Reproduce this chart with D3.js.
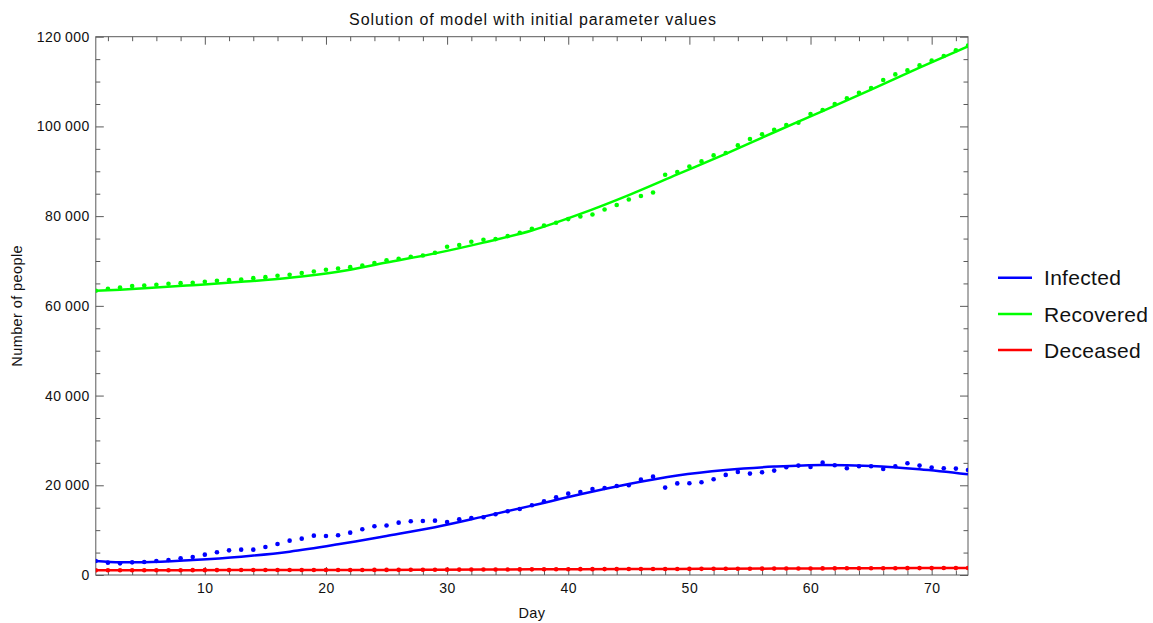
<!DOCTYPE html>
<html>
<head>
<meta charset="utf-8">
<script src="https://cdn.jsdelivr.net/npm/d3@7"></script>
<style>
  html, body { margin: 0; padding: 0; background: #fff; }
  svg { display: block; font-family: "Liberation Sans", Arial, sans-serif; }
</style>
</head>
<body>
<svg id="chart" width="1153" height="623"></svg>
<script>
// ---------- DATA ----------
const days = d3.range(1, 74); // days 1..73 for observed data

const infectedObs = [
  3120, 2750, 2600, 2820, 2900, 3120, 3350, 3720, 4010, 4540,
  5060, 5500, 5650, 5650, 6250, 6920, 7660, 8100, 8770, 8700,
  8850, 9440, 10190, 10860, 11050, 11670, 11970, 12050, 12120, 11820,
  12420, 12710, 12860, 13540, 14210, 14720, 15540, 16430, 17330, 18140,
  18510, 19180, 19410, 19850, 20000, 21260, 21930, 19480, 20420, 20450,
  20670, 21350, 22310, 22980, 22600, 22900, 23270, 24020, 24390, 24090,
  25050, 24470, 23800, 24250, 24250, 23640, 24250, 24920, 24390, 23940,
  23800, 23720, 23420
];

const recoveredObs = [
  63350, 63800, 64090, 64400, 64540, 64690, 64910, 65060, 65130, 65360,
  65580, 65730, 65880, 66180, 66400, 66700, 66920, 67300, 67660, 68040,
  68330, 68630, 69000, 69530, 70150, 70490, 70940, 71230, 71830, 73170,
  73540, 74280, 74730, 74880, 75550, 76290, 77180, 77920, 78520, 79340,
  79930, 80380, 81490, 82470, 83720, 84480, 85280, 89230, 89830, 91080,
  92200, 93540, 94060, 95770, 97190, 98230, 99270, 100310, 100830, 102770,
  103660, 105000, 106250, 107520, 108560, 110350, 111600, 112490, 113600, 114660,
  115700, 116960, 118000
];

const deceasedObs = [
  1040, 1045, 1050, 1055, 1060, 1065, 1070, 1075, 1080, 1085,
  1090, 1095, 1100, 1100, 1105, 1105, 1110, 1110, 1115, 1115,
  1120, 1125, 1130, 1135, 1140, 1150, 1160, 1170, 1180, 1190,
  1200, 1210, 1220, 1230, 1240, 1250, 1260, 1270, 1280, 1290,
  1300, 1305, 1310, 1320, 1325, 1330, 1335, 1340, 1350, 1360,
  1370, 1380, 1390, 1400, 1410, 1420, 1430, 1440, 1450, 1460,
  1470, 1480, 1490, 1500, 1505, 1510, 1520, 1530, 1535, 1540,
  1550, 1555, 1560
];

// model solution, sampled days
const modelDays = [1, 3, 5, 9, 13, 17, 21, 25, 29, 33, 37, 41, 45, 49, 53, 57, 61, 65, 69, 73];
const infectedModel = [3120, 2840, 2860, 3350, 4090, 5200, 6840, 8700, 10640, 13010, 15470, 18000, 20300, 22200, 23420, 24160, 24540, 24310, 23580, 22460];
const recoveredModel = [63350, 63600, 63900, 64600, 65350, 66250, 67600, 69650, 71700, 74100, 76800, 80500, 84700, 89300, 93900, 98700, 103400, 108200, 113100, 117850];
const deceasedModel = [1040, 1045, 1060, 1085, 1100, 1110, 1120, 1140, 1180, 1220, 1260, 1300, 1325, 1350, 1390, 1430, 1470, 1505, 1535, 1560];

const seriesNames = ["Infected", "Recovered", "Deceased"];
const seriesColors = ["#0000ff", "#00ff00", "#ff0000"];

const xMajorTicks = [10, 20, 30, 40, 50, 60, 70];
const xMinorTicks = [2, 4, 6, 8, 12, 14, 16, 18, 22, 24, 26, 28, 32, 34, 36, 38, 42, 44, 46, 48, 52, 54, 56, 58, 62, 64, 66, 68, 72];
const yMajorTicks = [0, 20000, 40000, 60000, 80000, 100000, 120000];
const yMinorTicks = [5000, 10000, 15000, 25000, 30000, 35000, 45000, 50000, 55000, 65000, 70000, 75000, 85000, 90000, 95000, 105000, 110000, 115000];

const titleText = "Solution of model with initial parameter values";
const xLabel = "Day";
const yLabel = "Number of people";

// ---------- LAYOUT ----------
const L = 95.8, R = 968, T = 36.7, B = 575;
const svg = d3.select("#chart");
const x = d3.scaleLinear().domain([1, 73]).range([L, R]);
const y = d3.scaleLinear().domain([0, 120000]).range([B, T]);

const frameColor = "#5a5a5a";
const fmt = v => v >= 1000 ? d3.format(",")(v).replace(/,/g, "\u2009") : String(v);

function styleAxis(g) {
  g.select(".domain").remove();
  g.selectAll(".tick line").attr("stroke", frameColor);
  g.selectAll(".tick text").attr("fill", "#111").style("font-size", "14px")
    .style("letter-spacing", "0.5px")
    .style("font-family", '"Liberation Sans", Arial, sans-serif');
}

// bottom
svg.append("g").attr("transform", `translate(0,${B})`)
  .call(d3.axisBottom(x).tickValues(xMajorTicks).tickSize(-8).tickPadding(8).tickFormat(d => d))
  .call(styleAxis);
svg.append("g").attr("transform", `translate(0,${B})`)
  .call(d3.axisBottom(x).tickValues(xMinorTicks).tickSize(-4.5).tickFormat(""))
  .call(styleAxis);
// top
svg.append("g").attr("transform", `translate(0,${T})`)
  .call(d3.axisTop(x).tickValues(xMajorTicks).tickSize(-8).tickFormat(""))
  .call(styleAxis);
svg.append("g").attr("transform", `translate(0,${T})`)
  .call(d3.axisTop(x).tickValues(xMinorTicks).tickSize(-4.5).tickFormat(""))
  .call(styleAxis);
// left
svg.append("g").attr("transform", `translate(${L},0)`)
  .call(d3.axisLeft(y).tickValues(yMajorTicks).tickSize(-8).tickPadding(6).tickFormat(fmt))
  .call(styleAxis);
svg.append("g").attr("transform", `translate(${L},0)`)
  .call(d3.axisLeft(y).tickValues(yMinorTicks).tickSize(-4.5).tickFormat(""))
  .call(styleAxis);
// right
svg.append("g").attr("transform", `translate(${R},0)`)
  .call(d3.axisRight(y).tickValues(yMajorTicks).tickSize(-8).tickFormat(""))
  .call(styleAxis);
svg.append("g").attr("transform", `translate(${R},0)`)
  .call(d3.axisRight(y).tickValues(yMinorTicks).tickSize(-4.5).tickFormat(""))
  .call(styleAxis);

// frame
svg.append("rect").attr("x", L).attr("y", T).attr("width", R - L).attr("height", B - T)
  .attr("fill", "none").attr("stroke", frameColor).attr("stroke-width", 1);

// clip
svg.append("clipPath").attr("id", "plotclip").append("rect")
  .attr("x", L).attr("y", T - 4).attr("width", R - L).attr("height", B - T + 8);

const plot = svg.append("g").attr("clip-path", "url(#plotclip)");

const obsSets = [infectedObs, recoveredObs, deceasedObs];
const modelSets = [infectedModel, recoveredModel, deceasedModel];

const line = d3.line().x(d => x(d[0])).y(d => y(d[1])).curve(d3.curveMonotoneX);

modelSets.forEach((vals, i) => {
  plot.append("path")
    .datum(modelDays.map((d, j) => [d, vals[j]]))
    .attr("d", line)
    .attr("fill", "none")
    .attr("stroke", seriesColors[i])
    .attr("stroke-width", 2.5);
});

obsSets.forEach((vals, i) => {
  plot.append("g").selectAll("circle")
    .data(days.map((d, j) => [d, vals[j]]))
    .join("circle")
    .attr("cx", d => x(d[0]))
    .attr("cy", d => y(d[1]))
    .attr("r", 2.3)
    .attr("fill", seriesColors[i]);
});

// title
svg.append("text").attr("x", 533).attr("y", 25).attr("text-anchor", "middle")
  .style("font-size", "16px").style("letter-spacing", "0.9px").attr("fill", "#111").text(titleText);

// axis labels
svg.append("text").attr("x", (L + R) / 2).attr("y", 618).attr("text-anchor", "middle")
  .style("font-size", "14.5px").style("letter-spacing", "0.4px").attr("fill", "#111").text(xLabel);
svg.append("text").attr("transform", `translate(22,${(T + B) / 2}) rotate(-90)`)
  .attr("text-anchor", "middle").style("font-size", "14.5px").style("letter-spacing", "0.4px")
  .attr("fill", "#111").text(yLabel);

// legend
const legendY = [277.7, 314, 350];
const legend = svg.append("g");
seriesNames.forEach((name, i) => {
  legend.append("line").attr("x1", 998).attr("x2", 1032)
    .attr("y1", legendY[i]).attr("y2", legendY[i])
    .attr("stroke", seriesColors[i]).attr("stroke-width", 2.5);
  legend.append("text").attr("x", 1044).attr("y", legendY[i]).attr("dy", "0.36em")
    .style("font-size", "21px").style("letter-spacing", "0.3px").attr("fill", "#111").text(name);
});
</script>
</body>
</html>
